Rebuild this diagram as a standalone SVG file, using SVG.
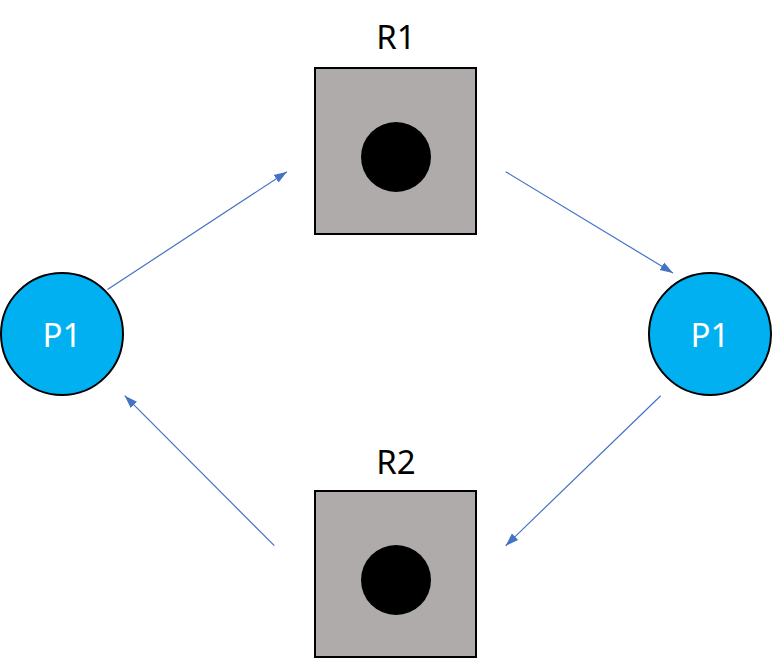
<svg xmlns="http://www.w3.org/2000/svg" width="772" height="658" viewBox="0 0 772 658">
<style>
.proc{fill:#00B0F0;stroke:#000;stroke-width:2}
.res{fill:#AFABAB;stroke:#000;stroke-width:2}
.dot{fill:#000}
.lbl{font-family:"Noto Sans","Open Sans","Liberation Sans",sans-serif;font-size:33px;text-anchor:middle}
.pl{fill:#fff}
.rl{fill:#000}
.edge{stroke:#4472C4;stroke-width:1.2;fill:none;marker-end:url(#ah)}
</style>
<defs>
<marker id="ah" markerUnits="userSpaceOnUse" markerWidth="14" markerHeight="12" viewBox="0 0 14 12" refX="13" refY="6" orient="auto">
<path d="M0,1.5 L13,6 L0,10.5 Z" fill="#4472C4"/>
</marker>
</defs>
<rect width="772" height="658" fill="#fff"/>
<g id="p1-left">
<circle class="proc" cx="62" cy="334" r="61"/>
<text class="lbl pl" x="62" y="347">P1</text>
</g>
<g id="p1-right">
<circle class="proc" cx="710" cy="334" r="61"/>
<text class="lbl pl" x="710" y="347">P1</text>
</g>
<g id="r1">
<text class="lbl rl" x="396" y="49">R1</text>
<rect class="res" x="315" y="68" width="161" height="166"/>
<circle class="dot" cx="396" cy="157" r="35"/>
</g>
<g id="r2">
<text class="lbl rl" x="396" y="474">R2</text>
<rect class="res" x="315" y="491" width="161" height="166"/>
<circle class="dot" cx="396" cy="580" r="35"/>
</g>
<g id="connectors">
<line class="edge" x1="107.5" y1="289.5" x2="287" y2="171.7"/>
<line class="edge" x1="505.7" y1="171.7" x2="673" y2="273"/>
<line class="edge" x1="660.7" y1="395.7" x2="505.7" y2="545.7"/>
<line class="edge" x1="274.3" y1="545.7" x2="124.7" y2="395.7"/>
</g>
</svg>
